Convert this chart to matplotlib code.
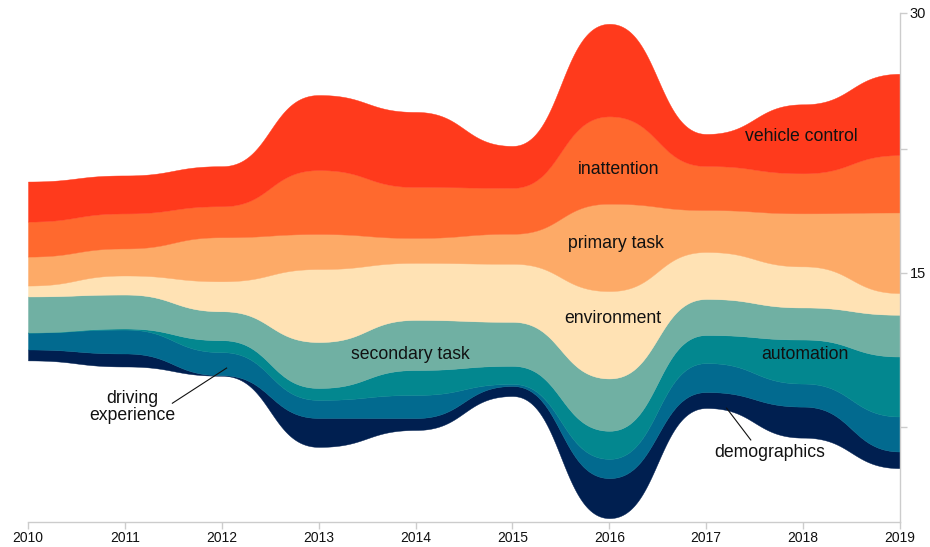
import numpy as np
import matplotlib
matplotlib.use("Agg")
import matplotlib.pyplot as plt

plt.rcParams['font.family'] = ['Liberation Sans', 'DejaVu Sans']

# yearly layer thicknesses (streamgraph, centred on a fixed line)
years = [2010, 2011, 2012, 2013, 2014, 2015, 2016, 2017, 2018, 2019]
demographics       = [0.63, 0.75, 0.03, 1.67, 0.69, 0.58, 2.31, 0.92, 1.79, 0.96]
driving_experience = [0.98, 1.38, 1.33, 1.04, 1.33, 0.12, 1.11, 1.67, 1.33, 2.02]
automation         = [0.00, 0.06, 0.69, 0.69, 1.44, 1.04, 1.62, 1.62, 2.54, 3.46]
secondary_task     = [2.08, 1.96, 1.67, 2.65, 2.89, 2.54, 3.02, 2.08, 1.85, 2.41]
environment        = [0.63, 1.10, 1.73, 4.21, 3.29, 3.35, 5.04, 2.71, 2.37, 1.25]
primary_task       = [1.67, 1.56, 2.54, 2.02, 1.44, 1.73, 5.04, 2.42, 3.06, 4.65]
inattention        = [2.02, 2.02, 1.79, 3.69, 2.94, 2.65, 5.04, 2.54, 2.31, 3.31]
vehicle_control    = [2.31, 2.19, 2.31, 4.33, 4.33, 2.42, 5.34, 1.85, 3.98, 4.69]

layers = [demographics, driving_experience, automation, secondary_task,
          environment, primary_task, inattention, vehicle_control]
colors = ['#001F50', '#026A8F', '#03878F', '#70B0A3',
          '#FFE2B4', '#FDAA67', '#FF692E', '#FF3A1C']
center = 15.1


def bump(x, y, n=60):
    # horizontal-tangent bezier between points (like d3.curveBumpX)
    t = np.linspace(0, 1, n)
    a = (1 - t) ** 3
    b = 3 * (1 - t) ** 2 * t
    c = 3 * (1 - t) * t ** 2
    d = t ** 3
    xs, ys = [], []
    for i in range(len(x) - 1):
        xm = (x[i] + x[i + 1]) / 2
        xs.append(a * x[i] + b * xm + c * xm + d * x[i + 1])
        ys.append(a * y[i] + b * y[i] + c * y[i + 1] + d * y[i + 1])
    return np.concatenate(xs), np.concatenate(ys)


data = np.array(layers)
total = data.sum(axis=0)
bounds = [center - total / 2]
for row in data:
    bounds.append(bounds[-1] + row)

smooth = [bump(years, b) for b in bounds]
xs = smooth[0][0]

fig = plt.figure(figsize=(9.3, 5.47), dpi=100)
ax = fig.add_axes([28 / 930, (547 - 521.7) / 547, 872 / 930, 509 / 547])

for k, c in enumerate(colors):
    ax.fill_between(xs, smooth[k][1], smooth[k + 1][1], color=c, linewidth=0.3, edgecolor=c)

ax.set_xlim(2010, 2019)
ax.set_ylim(0.635, 30)

for side in ['left', 'top']:
    ax.spines[side].set_visible(False)
for side in ['right', 'bottom']:
    ax.spines[side].set_color('#cccccc')
    ax.spines[side].set_linewidth(1)

ax.set_xticks(years)
ax.set_xticklabels([str(y) for y in years])
ax.yaxis.tick_right()
ax.set_yticks([6.12, 15, 22.12, 30])
ax.set_yticklabels(['', '15', '', '30'])
ax.tick_params(axis='both', colors='#cccccc', labelcolor='#111111',
               length=5, width=1, pad=2)
ax.tick_params(axis='x', labelsize=10)
ax.tick_params(axis='y', labelsize=10.5)

txt = dict(fontsize=12.7, color='#111111', ha='center', va='center')
ax.text(2017.98, 22.83, 'vehicle control', **txt)
ax.text(2016.10, 20.93, 'inattention', **txt)
ax.text(2016.07, 16.71, 'primary task', **txt)
ax.text(2016.04, 12.33, 'environment', **txt)
ax.text(2013.95, 10.30, 'secondary task', **txt)
ax.text(2018.02, 10.30, 'automation', **txt)
ax.text(2011.08, 7.26, 'driving\nexperience', linespacing=0.95, **txt)
ax.text(2017.65, 4.60, 'demographics', **txt)

ax.plot([2011.49, 2012.05], [7.47, 9.50], color='#111111', linewidth=0.8)
ax.plot([2017.46, 2017.21], [5.35, 7.19], color='#111111', linewidth=0.8)

fig.savefig('out.png', dpi=100)
